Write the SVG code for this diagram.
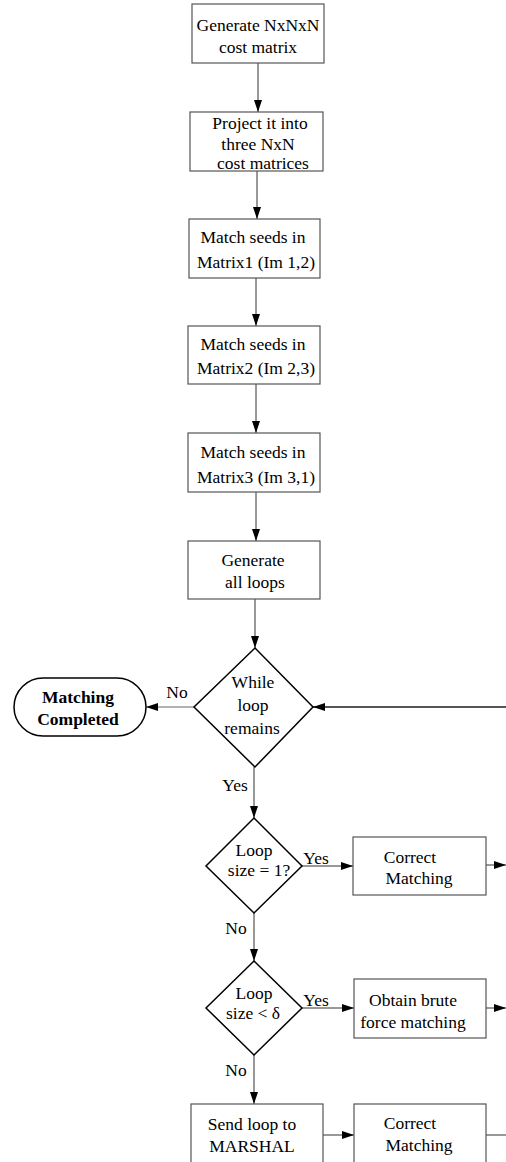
<svg xmlns="http://www.w3.org/2000/svg" width="506" height="1162" viewBox="0 0 506 1162">
<defs>
<marker id="ah" viewBox="0 0 12 8" refX="12" refY="4" markerWidth="12" markerHeight="8" markerUnits="userSpaceOnUse" orient="auto">
<path d="M0,0 L12,4 L0,8 z" fill="#000"/>
</marker>
</defs>
<style>
.box{fill:#fff;stroke:#555;stroke-width:1.2}
.dia{fill:#fff;stroke:#000;stroke-width:1.5}
.term{fill:#fff;stroke:#000;stroke-width:1.5}
.t{font-family:'Liberation Serif','DejaVu Serif','Times New Roman',serif;font-size:17.5px;fill:#000;text-anchor:middle}
.b{font-weight:bold}
.c{fill:none;stroke:#333;stroke-width:1}
.lg{stroke:#999;stroke-width:1.5}
.dk{stroke:#555;stroke-width:2}
</style>
<rect width="506" height="1162" fill="#fff"/>
<g id="connectors">
<line class="c" x1="258" y1="63" x2="258" y2="112" marker-end="url(#ah)"/>
<line class="c" x1="257" y1="171" x2="257" y2="219" marker-end="url(#ah)"/>
<line class="c" x1="256" y1="278" x2="256" y2="326" marker-end="url(#ah)"/>
<line class="c" x1="256" y1="384" x2="256" y2="433" marker-end="url(#ah)"/>
<line class="c" x1="256" y1="492" x2="256" y2="541" marker-end="url(#ah)"/>
<line class="c" x1="255" y1="599" x2="255" y2="648" marker-end="url(#ah)"/>
<line class="c lg" x1="194" y1="707" x2="146" y2="707" marker-end="url(#ah)"/>
<line class="c dk" x1="506" y1="707" x2="313" y2="707" marker-end="url(#ah)"/>
<line class="c" x1="254" y1="767" x2="254" y2="818" marker-end="url(#ah)"/>
<line class="c" x1="302" y1="866" x2="353" y2="866" marker-end="url(#ah)"/>
<line class="c" x1="486" y1="865" x2="506" y2="865" marker-end="url(#ah)"/>
<line class="c" x1="254" y1="913" x2="254" y2="961" marker-end="url(#ah)"/>
<line class="c" x1="302" y1="1008" x2="354" y2="1008" marker-end="url(#ah)"/>
<line class="c" x1="486" y1="1008" x2="506" y2="1008" marker-end="url(#ah)"/>
<line class="c" x1="254" y1="1055" x2="254" y2="1104" marker-end="url(#ah)"/>
<line class="c" x1="323" y1="1135" x2="354" y2="1135" marker-end="url(#ah)"/>
<line class="c" x1="486" y1="1135" x2="506" y2="1135"/>
<text class="t" x="177" y="698" font-family="Liberation Serif, serif">No</text>
<text class="t" x="235" y="791">Yes</text>
<text class="t" x="316" y="864">Yes</text>
<text class="t" x="236" y="934">No</text>
<text class="t" x="316" y="1006">Yes</text>
<text class="t" x="236" y="1076">No</text>
</g>
<g id="n1">
<rect class="box" x="192" y="4" width="132" height="59"/>
<text class="t" x="258" y="31">Generate NxNxN</text>
<text class="t" x="258" y="53">cost matrix</text>
</g>
<g id="n2">
<rect class="box" x="190" y="112" width="133" height="59"/>
<text class="t" x="260" y="129">Project it into</text>
<text class="t" x="258" y="150">three NxN</text>
<text class="t" x="263" y="169">cost matrices</text>
</g>
<g id="n3">
<rect class="box" x="189" y="219" width="131" height="59"/>
<text class="t" x="253" y="243">Match seeds in</text>
<text class="t" x="256" y="268">Matrix1 (Im 1,2)</text>
</g>
<g id="n4">
<rect class="box" x="188" y="326" width="132" height="58"/>
<text class="t" x="253" y="350">Match seeds in</text>
<text class="t" x="256" y="374">Matrix2 (Im 2,3)</text>
</g>
<g id="n5">
<rect class="box" x="188" y="433" width="132" height="59"/>
<text class="t" x="253" y="458">Match seeds in</text>
<text class="t" x="256" y="483">Matrix3 (Im 3,1)</text>
</g>
<g id="n6">
<rect class="box" x="188" y="541" width="132" height="58"/>
<text class="t" x="253" y="566">Generate</text>
<text class="t" x="255" y="588">all loops</text>
</g>
<g id="d1">
<polygon class="dia" points="255,648 313,707 255,767 194,707"/>
<text class="t" x="253" y="688">While</text>
<text class="t" x="253" y="711">loop</text>
<text class="t" x="252" y="734">remains</text>
</g>
<g id="end">
<rect class="term" x="14" y="678" width="132" height="58" rx="29" ry="29"/>
<text class="t b" x="78" y="703">Matching</text>
<text class="t b" x="78" y="725">Completed</text>
</g>
<g id="d2">
<polygon class="dia" points="254,818 302,866 254,913 206,866"/>
<text class="t" x="254" y="856">Loop</text>
<text class="t" x="259" y="876">size = 1?</text>
</g>
<g id="n7">
<rect class="box" x="353" y="837" width="133" height="58"/>
<text class="t" x="410" y="863">Correct</text>
<text class="t" x="419" y="884">Matching</text>
</g>
<g id="d3">
<polygon class="dia" points="254,961 302,1008 254,1055 206,1008"/>
<text class="t" x="254" y="999">Loop</text>
<text class="t" x="253" y="1019">size &lt;  δ</text>
</g>
<g id="n8">
<rect class="box" x="354" y="979" width="132" height="59"/>
<text class="t" x="413" y="1006">Obtain brute</text>
<text class="t" x="413" y="1028">force matching</text>
</g>
<g id="n9">
<rect class="box" x="191" y="1104" width="132" height="70"/>
<text class="t" x="252" y="1130">Send loop to</text>
<text class="t" x="252" y="1152">MARSHAL</text>
</g>
<g id="n10">
<rect class="box" x="354" y="1104" width="132" height="70"/>
<text class="t" x="410" y="1129">Correct</text>
<text class="t" x="419" y="1151">Matching</text>
</g>
</svg>
